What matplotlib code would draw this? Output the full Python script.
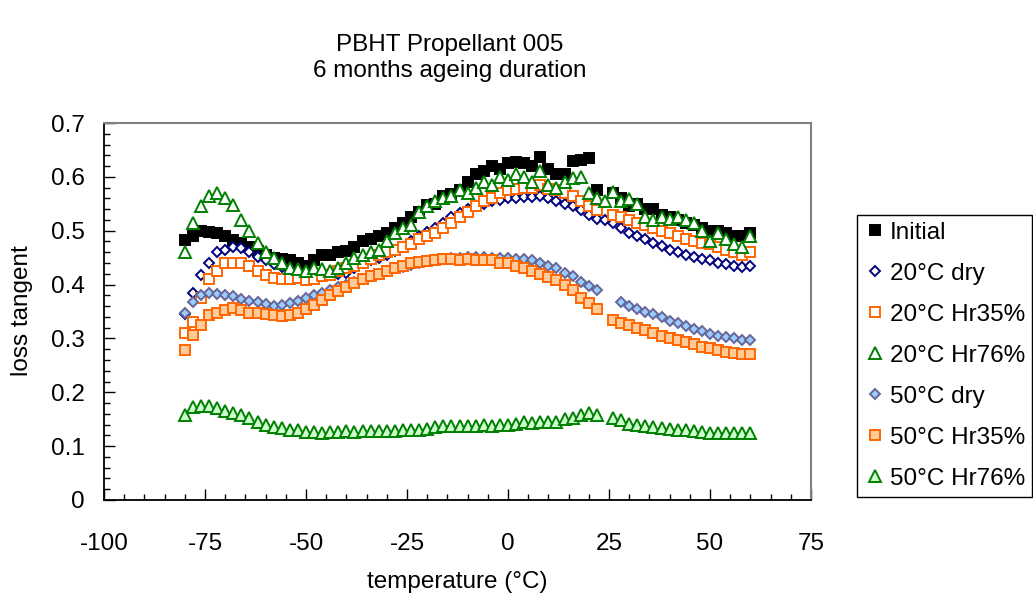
import numpy as np
import matplotlib
matplotlib.use("Agg")
import matplotlib.pyplot as plt
from matplotlib.ticker import MultipleLocator, FuncFormatter

nan = np.nan

# Temperatures (deg C) at which loss tangent was read
temperature = [-80, -78, -76, -74, -72, -70, -68, -66, -64, -62,
               -60, -58, -56, -54, -52, -50, -48, -46, -44, -42,
               -40, -38, -36, -34, -32, -30, -28, -26, -24, -22,
               -20, -18, -16, -14, -12, -10, -8, -6, -4, -2,
               0, 2, 4, 6, 8, 10, 12, 14, 16, 18,
               20, 22, 24, 26, 28, 30, 32, 34, 36, 38,
               40, 42, 44, 46, 48, 50, 52, 54, 56, 58,
               60]

initial = [0.482, 0.490, 0.500, 0.497, 0.495, 0.490, 0.482, 0.478, 0.470, 0.462,
           0.455, 0.450, 0.447, 0.445, 0.440, 0.435, 0.445, 0.455, 0.455, 0.460,
           0.462, 0.470, 0.480, 0.485, 0.490, 0.495, 0.505, 0.515, 0.525, 0.535,
           0.548, 0.550, 0.565, 0.568, 0.575, 0.590, 0.605, 0.610, 0.620, 0.615,
           0.625, 0.628, 0.625, 0.620, 0.637, 0.615, 0.605, 0.605, 0.630, 0.632,
           0.635, 0.575, nan, 0.570, 0.560, 0.545, 0.550, 0.540, 0.540, 0.530,
           0.525, 0.520, 0.515, 0.510, 0.505, 0.500, 0.500, 0.495, 0.490, 0.490,
           0.495]

dry_20 = [0.345, 0.385, 0.418, 0.440, 0.460, 0.465, 0.470, 0.468, 0.460, 0.452,
          0.445, 0.438, 0.432, 0.425, 0.422, 0.420, 0.418, 0.415, 0.418, 0.420,
          0.422, 0.430, 0.440, 0.445, 0.450, 0.455, 0.463, 0.470, 0.480, 0.490,
          0.497, 0.505, 0.515, 0.525, 0.533, 0.540, 0.545, 0.550, 0.555, 0.557,
          0.560, 0.560, 0.562, 0.562, 0.565, 0.560, 0.555, 0.550, 0.545, 0.538,
          0.530, 0.522, 0.520, 0.515, 0.505, 0.495, 0.490, 0.485, 0.478, 0.472,
          0.465, 0.460, 0.455, 0.452, 0.448, 0.445, 0.440, 0.438, 0.435, 0.432,
          0.435]

hr35_20 = [0.310, 0.330, 0.375, 0.410, 0.425, 0.440, 0.440, 0.440, 0.435, 0.425,
           0.418, 0.413, 0.410, 0.410, 0.412, 0.408, 0.410, 0.415, 0.418, 0.425,
           0.430, 0.435, 0.440, 0.448, 0.455, 0.460, 0.465, 0.470, 0.475, 0.485,
           0.490, 0.495, 0.505, 0.515, 0.525, 0.535, 0.545, 0.555, 0.560, 0.570,
           0.575, 0.578, 0.580, 0.580, 0.585, 0.578, 0.575, 0.570, 0.565, 0.555,
           0.545, 0.538, nan, 0.530, 0.525, 0.520, 0.515, 0.510, 0.505, 0.500,
           0.495, 0.490, 0.485, 0.480, 0.478, 0.475, 0.470, 0.465, 0.460, 0.455,
           0.460]

hr76_20 = [0.460, 0.515, 0.545, 0.565, 0.570, 0.560, 0.548, 0.520, 0.500, 0.478,
           0.460, 0.450, 0.440, 0.430, 0.428, 0.425, 0.430, 0.428, 0.425, 0.430,
           0.440, 0.450, 0.455, 0.460, 0.465, 0.480, 0.495, 0.505, 0.510, 0.535,
           0.545, 0.555, 0.560, 0.565, 0.575, 0.570, 0.580, 0.590, 0.585, 0.600,
           0.595, 0.605, 0.600, 0.590, 0.610, 0.585, 0.580, 0.590, 0.598, 0.600,
           0.570, 0.560, 0.555, 0.572, 0.555, 0.558, 0.550, 0.525, 0.520, 0.525,
           0.522, 0.525, 0.520, 0.515, 0.500, 0.480, 0.495, 0.485, 0.475, 0.470,
           0.490]

dry_50 = [0.347, 0.368, 0.380, 0.385, 0.383, 0.380, 0.378, 0.374, 0.370, 0.368,
          0.363, 0.360, 0.362, 0.366, 0.370, 0.375, 0.380, 0.385, 0.390, 0.395,
          0.400, 0.405, 0.410, 0.415, 0.420, 0.425, 0.430, 0.433, 0.437, 0.440,
          0.443, 0.445, 0.447, 0.450, 0.450, 0.452, 0.452, 0.452, 0.450, 0.450,
          0.450, 0.448, 0.448, 0.445, 0.440, 0.435, 0.430, 0.422, 0.415, 0.405,
          0.398, 0.390, nan, nan, 0.368, 0.360, 0.355, 0.350, 0.345, 0.340,
          0.333, 0.328, 0.323, 0.318, 0.313, 0.308, 0.305, 0.302, 0.300, 0.297,
          0.297]

hr35_50 = [0.278, 0.306, 0.325, 0.343, 0.348, 0.352, 0.357, 0.352, 0.348, 0.347,
           0.345, 0.343, 0.342, 0.343, 0.348, 0.355, 0.362, 0.372, 0.380, 0.388,
           0.395, 0.403, 0.410, 0.415, 0.420, 0.425, 0.430, 0.435, 0.440, 0.442,
           0.444, 0.446, 0.448, 0.447, 0.446, 0.447, 0.446, 0.446, 0.445, 0.440,
           0.440, 0.435, 0.430, 0.426, 0.420, 0.414, 0.408, 0.400, 0.390, 0.375,
           0.365, 0.355, nan, 0.335, 0.328, 0.325, 0.320, 0.315, 0.310, 0.305,
           0.300, 0.297, 0.293, 0.290, 0.285, 0.282, 0.278, 0.275, 0.273, 0.272,
           0.272]

hr76_50 = [0.158, 0.172, 0.175, 0.175, 0.170, 0.166, 0.162, 0.158, 0.152, 0.145,
           0.140, 0.135, 0.133, 0.130, 0.130, 0.127, 0.126, 0.125, 0.126, 0.126,
           0.128, 0.127, 0.128, 0.128, 0.128, 0.128, 0.128, 0.130, 0.130, 0.130,
           0.132, 0.135, 0.137, 0.137, 0.138, 0.138, 0.138, 0.140, 0.138, 0.140,
           0.140, 0.142, 0.145, 0.143, 0.145, 0.145, 0.145, 0.150, 0.152, 0.158,
           0.162, 0.158, nan, 0.152, 0.148, 0.142, 0.140, 0.138, 0.135, 0.133,
           0.132, 0.130, 0.130, 0.128, 0.127, 0.125, 0.125, 0.125, 0.125, 0.125,
           0.125]

labels = ["Initial", "20°C dry", "20°C Hr35%", "20°C Hr76%",
          "50°C dry", "50°C Hr35%", "50°C Hr76%"]

plt.rcParams["font.family"] = ["Liberation Sans", "DejaVu Sans"]
plt.rcParams["axes.unicode_minus"] = False
FS = 17.5

fig = plt.figure(figsize=(10.33, 5.99), dpi=100)
ax = fig.add_axes([104 / 1033, 1 - 500 / 599, 707 / 1033, 377 / 599])

# marker style per series: (marker, size, face, edge)
styles = [("s", 7.0, "black", "black"),
          ("D", 5.2, "white", "#000080"),
          ("s", 7.0, "white", "#FF6600"),
          ("^", 8.0, "white", "#008000"),
          ("D", 5.6, "#99CCFF", "#666699"),
          ("s", 7.0, "#FFCC99", "#FF6600"),
          ("^", 8.0, "#CCFFCC", "#008000")]
series = [initial, dry_20, hr35_20, hr76_20, dry_50, hr35_50, hr76_50]

for vals, lab, (mk, ms, fc, ec) in zip(series, labels, styles):
    ax.plot(temperature, vals, linestyle="none", marker=mk, markersize=ms,
            markerfacecolor=fc, markeredgecolor=ec, markeredgewidth=1.4,
            label=lab, clip_on=False)

ax.set_xlim(-100, 75)
ax.set_ylim(0, 0.7)
ax.xaxis.set_major_locator(MultipleLocator(25))
ax.xaxis.set_minor_locator(MultipleLocator(5))
ax.yaxis.set_major_locator(MultipleLocator(0.1))
ax.yaxis.set_minor_locator(MultipleLocator(0.02))
ax.yaxis.set_major_formatter(FuncFormatter(lambda v, p: "%g" % round(v, 2)))

ax.tick_params(which="both", direction="in", top=False, right=False, width=1.0)
ax.tick_params(which="major", length=8)
ax.tick_params(which="minor", length=4.5)
ax.tick_params(axis="x", which="major", pad=24, labelsize=FS)
ax.tick_params(axis="y", which="major", pad=14, labelsize=FS)

for side in ["top", "right"]:
    ax.spines[side].set_color("#808080")
    ax.spines[side].set_linewidth(1.5)
for side in ["left", "bottom"]:
    ax.spines[side].set_color("black")
    ax.spines[side].set_linewidth(1.3)

fig.text(22 / 1033, 1 - 311 / 599, "loss tangent", rotation=90,
         ha="center", va="center", fontsize=FS)
fig.text(457 / 1033, 1 - 582 / 599, "temperature (°C)",
         ha="center", va="center", fontsize=FS)

fig.text(450 / 1033, 1 - 45 / 599, "PBHT Propellant 005",
         ha="center", va="center", fontsize=FS)
fig.text(450 / 1033, 1 - 71 / 599, "6 months ageing duration",
         ha="center", va="center", fontsize=FS)

leg = fig.legend(loc="lower left", bbox_to_anchor=(857 / 1033, 1 - 497 / 599),
                 borderaxespad=0, fontsize=FS, frameon=True, fancybox=False,
                 edgecolor="black", framealpha=1, borderpad=0.3,
                 handlelength=0.9, handletextpad=0.15, labelspacing=0.78,
                 markerscale=1.0)
leg.get_frame().set_linewidth(1.0)

fig.savefig("out.png", dpi=100)
